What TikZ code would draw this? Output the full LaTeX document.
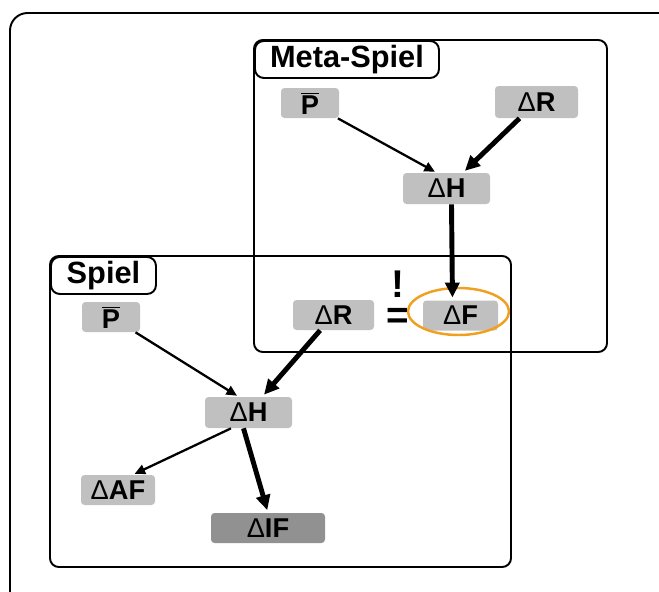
\documentclass[tikz,border=0pt]{standalone}
\usepackage{fontspec}
\setmainfont{Liberation Sans}
\usepackage{tikz}
\usetikzlibrary{arrows,arrows.meta,shapes,positioning}
\definecolor{boxgray}{RGB}{192,192,192}
\definecolor{ifgray}{RGB}{145,145,145}
\definecolor{ringorange}{RGB}{240,160,30}
\newcommand{\dlt}{{\mdseries Δ}}
\newcommand{\pbar}{\(\overline{\mbox{P}}\)}

\begin{document}
\begin{tikzpicture}[
  var/.style={fill=boxgray, rounded corners=2pt, minimum width=1.16cm, minimum height=0.6cm, inner sep=0pt, font=\fontsize{15.5}{17}\selectfont\bfseries},
  frame/.style={draw, line width=1.1pt, rounded corners=5pt},
  tag/.style={frame, fill=white, anchor=north west, minimum height=0.74cm, inner sep=0pt, font=\fontsize{17.5}{19}\selectfont\bfseries},
  mark sign/.style={inner sep=0pt, align=center, font=\fontsize{22}{17.6}\selectfont\bfseries},
  weak/.style={line width=1.3pt, -{Triangle[length=6pt,width=5.5pt]}, shorten >=1pt},
  strong/.style={line width=2.8pt, -{Triangle[length=8.5pt,width=8pt]}, shorten >=1.5pt}
]
\useasboundingbox (0,0) rectangle (13.18,11.82);
\clip (0,0) rectangle (13.18,11.82);
\draw[frame, rounded corners=10pt] (0.2,-1) rectangle (14,11.56);

% Meta-Spiel
\draw[frame] (5.08,4.78) rectangle (12.14,11.02);
\node[tag, minimum width=3.68cm] (metatag) at (5.08,11.02) {Meta-Spiel};
\node[var] (mP) at (6.2,9.76) {\pbar};
\node[var, minimum width=1.66cm, minimum height=0.64cm] (mR) at (10.73,9.78) {\dlt R};
\node[var, minimum width=1.74cm, minimum height=0.62cm] (mH) at (8.93,8.05) {\dlt H};
\node[var, minimum width=1.5cm] (mF) at (9.21,5.51) {\dlt F};
\node[draw=ringorange, line width=1.4pt, ellipse, minimum width=2.02cm, minimum height=0.94cm] (ring) at ([shift={(-0.04,0.08)}]mF) {};

% Spiel
\draw[frame] (1.0,0.48) rectangle (10.22,6.70);
\node[tag, minimum width=2.1cm] (spieltag) at (1.0,6.70) {Spiel};
\node[var] (sP) at (2.22,5.48) {\pbar};
\node[var, minimum width=1.62cm] (sR) at (6.67,5.52) {\dlt R};
\node[var, minimum width=1.74cm, minimum height=0.62cm] (sH) at (4.97,3.57) {\dlt H};
\node[var, minimum width=1.48cm] (sAF) at (2.36,2.02) {\dlt AF};
\node[var, fill=ifgray, minimum width=2.28cm] (sIF) at (5.36,1.26) {\dlt IF};

\node[mark sign] (defeq) at (7.95,5.82) {!\\=};

\draw[weak] (mP) -- ([xshift=-2mm]mH.north);
\draw[strong] (mR) -- (mH);
\draw[strong] ([xshift=1mm]mH.south) -- ([xshift=-1.6mm]mF.north);
\draw[weak] (sP) -- ([xshift=-2mm]sH.north);
\draw[strong] (sR) -- (sH);
\draw[weak] ([xshift=-3.5mm]sH.south) -- ([xshift=3mm]sAF.north);
\draw[strong] ([xshift=-1mm]sH.south) -- (sIF.north);
\end{tikzpicture}
\end{document}
